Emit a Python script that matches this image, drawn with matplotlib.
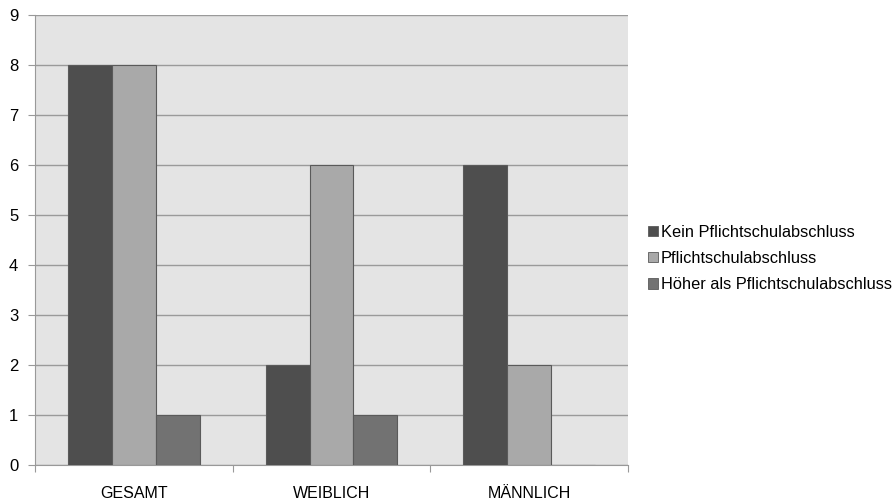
import numpy as np
import matplotlib.pyplot as plt
from matplotlib.patches import Patch

plt.rcParams['font.family'] = ['Liberation Sans', 'DejaVu Sans']

kategorien = ['GESAMT', 'WEIBLICH', 'MÄNNLICH']
serien = ['Kein Pflichtschulabschluss', 'Pflichtschulabschluss', 'Höher als Pflichtschulabschluss']
kein = [8, 2, 6]
pflicht = [8, 6, 2]
hoeher = [1, 1, 0]
farben = ['#4e4e4e', '#a9a9a9', '#727272']

fig = plt.figure(figsize=(8.96, 5), dpi=100)
ax = fig.add_axes([35/896, 35/500, 593/896, 450/500])
ax.set_facecolor('#e4e4e4')

x = np.arange(len(kategorien))
w = 0.222
for i, (werte, farbe) in enumerate(zip([kein, pflicht, hoeher], farben)):
    ax.bar(x + (i - 1) * w, werte, w, color=farbe, edgecolor='#5a5a5a', linewidth=0.8, zorder=3)

ax.set_xlim(-0.5, 2.5)
ax.set_ylim(0, 9)
ax.set_yticks(range(10))
ax.yaxis.grid(True, color='#9a9a9a', linewidth=1, zorder=1)
ax.set_xticks([-0.5, 0.5, 1.5, 2.5])
ax.set_xticklabels([])
ax.set_xticks(x, minor=True)
ax.set_xticklabels(kategorien, minor=True, fontsize=11.5)
ax.tick_params(axis='x', which='minor', length=0, pad=15)
ax.tick_params(axis='x', which='major', length=5, color='#999999', direction='out')
ax.tick_params(axis='y', length=5, color='#999999', labelsize=12, pad=7)
for s in ['top', 'right']:
    ax.spines[s].set_visible(False)
for s in ['left', 'bottom']:
    ax.spines[s].set_color('#999999')

handles = [Patch(facecolor=f, edgecolor='#5a5a5a', linewidth=0.6) for f in farben]
fig.legend(handles, serien, loc='center left', bbox_to_anchor=(633/896, 0.483), frameon=False,
           fontsize=11.8, handlelength=0.6, handleheight=0.6, handletextpad=0.2, labelspacing=0.7)

fig.savefig('out.png', dpi=100)
